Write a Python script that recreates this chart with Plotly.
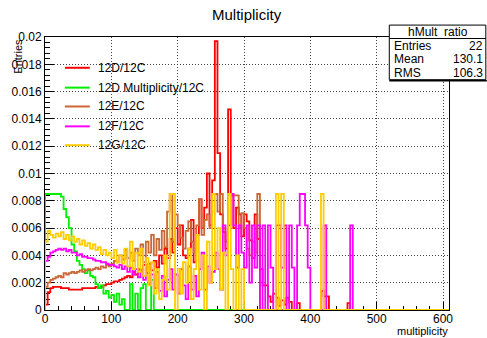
import plotly.graph_objects as go

# ---------------- data (bin width 4, starting at 0) ----------------
BIN_WIDTH = 4
X_MAX = 609

names = ["12D/12C", "12D Multiplicity/12C", "12E/12C", "12F/12C", "12G/12C"]
colors = ["#ff0000", "#00ee00", "#cc6633", "#ff00ff", "#ffcc00"]

red_12D = [
    0.0004, 0.0013, 0.0016, 0.0017, 0.0017, 0.0017, 0.0016, 0.0016, 0.0016, 0.0015,
    0.0015, 0.0015, 0.0015, 0.0015, 0.0016, 0.0016, 0.0016, 0.0016, 0.0016, 0.0017,
    0.0016, 0.0017, 0.0018, 0.0019, 0.0019, 0.0020, 0.0021, 0.0021, 0.0022, 0.0023,
    0.0024, 0.0025, 0.0024, 0.0028, 0.0026, 0.0030, 0.0029, 0.0033, 0.0027, 0.0034,
    0.0029, 0.0036, 0.0031, 0.0040, 0.0034, 0.0045, 0.0038, 0.0052, 0.0042, 0.0060,
    0.0048, 0.0062, 0.0040, 0.0038, 0.0045, 0.0066, 0.0035, 0.0055, 0.0081, 0.0060,
    0.0075, 0.0100, 0.0062, 0.0095, 0.0197, 0.0115, 0.0070, 0.0057, 0.0045, 0.0147,
    0.0084, 0.0060, 0.0075, 0.0070, 0.0054, 0.0070, 0.0065, 0.0051, 0.0038, 0.0070,
    0.0052, 0.0030, 0.0018, 0.0018, 0.0010, 0.0006, 0.0012, 0.0009, 0.0003, 0.0007,
    0.0004, 0.0009, 0.0006, 0.0000, 0.0000, 0.0005, 0.0000, 0.0000, 0.0000, 0.0000,
    0.0000, 0.0000, 0.0000, 0.0000, 0.0014, 0.0010, 0.0010, 0.0000, 0.0000, 0.0000,
    0.0000, 0.0000, 0.0000, 0.0000, 0.0005,
]

green_12D_mult = [
    0.0085, 0.0085, 0.0085, 0.0085, 0.0085, 0.0085, 0.0083, 0.0074, 0.0068, 0.0060,
    0.0048, 0.0043, 0.0036, 0.0033, 0.0030, 0.0027, 0.0029, 0.0025, 0.0024, 0.0019,
    0.0016, 0.0018, 0.0012, 0.0014, 0.0009, 0.0011, 0.0006, 0.0012, 0.0004, 0.0008,
    0.0000, 0.0000, 0.0019, 0.0000, 0.0012, 0.0000, 0.0016, 0.0019, 0.0000, 0.0000,
    0.0022,
]

brown_12E = [
    0.0017, 0.0020, 0.0022, 0.0023, 0.0024, 0.0025, 0.0024, 0.0027, 0.0026, 0.0027,
    0.0028, 0.0027, 0.0028, 0.0029, 0.0028, 0.0029, 0.0030, 0.0029, 0.0030, 0.0031,
    0.0030, 0.0032, 0.0031, 0.0033, 0.0032, 0.0034, 0.0036, 0.0035, 0.0040, 0.0037,
    0.0044, 0.0038, 0.0042, 0.0036, 0.0045, 0.0040, 0.0048, 0.0035, 0.0050, 0.0042,
    0.0055, 0.0040, 0.0052, 0.0044, 0.0058, 0.0046, 0.0072, 0.0085, 0.0050, 0.0070,
    0.0062, 0.0053, 0.0045, 0.0058, 0.0065, 0.0050, 0.0042, 0.0062, 0.0081, 0.0055,
    0.0066, 0.0070, 0.0060, 0.0085, 0.0085, 0.0072, 0.0085, 0.0060, 0.0050, 0.0085,
    0.0085, 0.0084, 0.0084, 0.0060, 0.0071, 0.0060, 0.0045, 0.0040, 0.0050, 0.0042,
    0.0085,
]

magenta_12F = [
    0.0036, 0.0039, 0.0042, 0.0043, 0.0044, 0.0045, 0.0044, 0.0045, 0.0043, 0.0044,
    0.0042, 0.0042, 0.0040, 0.0041, 0.0039, 0.0039, 0.0038, 0.0038, 0.0037, 0.0036,
    0.0036, 0.0035, 0.0035, 0.0034, 0.0033, 0.0033, 0.0032, 0.0031, 0.0033, 0.0030,
    0.0032, 0.0028, 0.0031, 0.0026, 0.0030, 0.0024, 0.0029, 0.0022, 0.0027, 0.0019,
    0.0026, 0.0016, 0.0028, 0.0014, 0.0025, 0.0010, 0.0022, 0.0030, 0.0015, 0.0026,
    0.0012, 0.0030, 0.0018, 0.0008, 0.0032, 0.0015, 0.0025, 0.0010, 0.0030, 0.0042,
    0.0015, 0.0032, 0.0020, 0.0028, 0.0042, 0.0030, 0.0015, 0.0062, 0.0040, 0.0062,
    0.0085, 0.0062, 0.0031, 0.0062, 0.0042, 0.0031, 0.0062, 0.0020, 0.0062, 0.0031,
    0.0062, 0.0000, 0.0062, 0.0000, 0.0062, 0.0031, 0.0000, 0.0062, 0.0062, 0.0031,
    0.0062, 0.0000, 0.0062, 0.0031, 0.0000, 0.0062, 0.0085, 0.0085, 0.0062, 0.0031,
    0.0000, 0.0000, 0.0000, 0.0000, 0.0000, 0.0062, 0.0000, 0.0000, 0.0000, 0.0000,
    0.0000, 0.0000, 0.0000, 0.0000, 0.0000, 0.0062,
]

yellow_12G = [
    0.0050, 0.0058, 0.0055, 0.0053, 0.0056, 0.0054, 0.0057, 0.0052, 0.0055, 0.0051,
    0.0054, 0.0050, 0.0052, 0.0048, 0.0051, 0.0047, 0.0049, 0.0045, 0.0048, 0.0044,
    0.0046, 0.0041, 0.0044, 0.0040, 0.0042, 0.0038, 0.0044, 0.0035, 0.0040, 0.0034,
    0.0045, 0.0032, 0.0050, 0.0030, 0.0042, 0.0028, 0.0045, 0.0025, 0.0038, 0.0018,
    0.0035, 0.0012, 0.0030, 0.0008, 0.0022, 0.0040, 0.0015, 0.0085, 0.0085, 0.0000,
    0.0030, 0.0012, 0.0035, 0.0020, 0.0045, 0.0008, 0.0030, 0.0055, 0.0015, 0.0040,
    0.0000, 0.0050, 0.0020, 0.0085, 0.0030, 0.0060, 0.0015, 0.0042, 0.0000, 0.0085,
    0.0030, 0.0000, 0.0040, 0.0000, 0.0030, 0.0000, 0.0000, 0.0000, 0.0000, 0.0000,
    0.0000, 0.0000, 0.0000, 0.0000, 0.0000, 0.0000, 0.0000, 0.0085, 0.0000, 0.0085,
    0.0000, 0.0000, 0.0000, 0.0000, 0.0000, 0.0000, 0.0000, 0.0000, 0.0000, 0.0000,
    0.0000, 0.0000, 0.0000, 0.0000, 0.0085,
]

series = [red_12D, green_12D_mult, brown_12E, magenta_12F, yellow_12G]
draw_order = [0, 1, 2, 3, 4]

x_tickvals = [0, 100, 200, 300, 400, 500, 600]
x_ticktext = ["0", "100", "200", "300", "400", "500", "600"]
y_tickvals = [0, 0.002, 0.004, 0.006, 0.008, 0.01, 0.012, 0.014, 0.016, 0.018, 0.02]
y_ticktext = ["0", "0.002", "0.004", "0.006", "0.008", "0.01", "0.012", "0.014",
              "0.016", "0.018", "0.02"]

stats_title = "hMult_ratio"
stats_labels = ["Entries", "Mean", "RMS"]
stats_values = ["22", "130.1", "106.3"]

# ---------------- figure ----------------
W, H = 487, 338
L, T = 43, 37
R = W - 449
B = H - 312
PW, PH = W - L - R, H - T - B


def px_x(p):
    return (p - L) / PW


def px_y(p):
    return (H - B - p) / PH


def step_xy(vals):
    xs, ys = [0], [0]
    for i, v in enumerate(vals):
        xs.append(i * BIN_WIDTH)
        ys.append(v)
    xs.append(len(vals) * BIN_WIDTH)
    ys.append(0)
    xs.append(X_MAX)
    ys.append(0)
    return xs, ys


fig = go.Figure()
for k in draw_order:
    xs, ys = step_xy(series[k])
    fig.add_trace(go.Scatter(x=xs, y=ys, mode="lines", line_shape="hv",
                             line=dict(color=colors[k], width=1.8),
                             name=names[k], showlegend=False, hoverinfo="skip"))

font = "Liberation Sans, Arial, Helvetica, sans-serif"
axis_common = dict(showline=True, linecolor="black", linewidth=1, mirror=True,
                   ticks="inside", tickcolor="black", tickwidth=1,
                   showgrid=True, gridcolor="#444444", gridwidth=1, griddash="1px,2px",
                   zeroline=False, layer="below traces",
                   tickfont=dict(family=font, size=12, color="black"))

fig.update_xaxes(range=[0, X_MAX], tickvals=x_tickvals, ticktext=x_ticktext,
                 ticklen=8, ticklabelstandoff=-2,
                 minor=dict(dtick=20, ticklen=4, ticks="inside",
                            tickcolor="black", showgrid=False),
                 **axis_common)
fig.update_yaxes(range=[0, 0.02], tickvals=y_tickvals, ticktext=y_ticktext,
                 ticklen=9, minor=dict(dtick=0.0004, ticklen=5, ticks="inside",
                                        tickcolor="black", showgrid=False),
                 **axis_common)

shapes = []
annotations = []

# legend
leg_y = [68, 88, 107, 127, 146]
for k in range(len(names)):
    shapes.append(dict(type="line", xref="paper", yref="paper",
                       x0=px_x(63), x1=px_x(88), y0=px_y(leg_y[k]), y1=px_y(leg_y[k]),
                       line=dict(color=colors[k], width=2)))
    annotations.append(dict(xref="paper", yref="paper", x=px_x(94), y=px_y(leg_y[k]),
                            text=names[k], showarrow=False, xanchor="left",
                            yanchor="middle", font=dict(family=font, size=12, color="black")))

# stats box
bx0, bx1, by0, by1 = 389, 486, 25, 80
shapes.append(dict(type="rect", xref="paper", yref="paper",
                   x0=px_x(bx0), x1=px_x(bx1), y0=px_y(by1), y1=px_y(by0),
                   line=dict(color="black", width=1), fillcolor="white", layer="above"))
shapes.append(dict(type="line", xref="paper", yref="paper",
                   x0=px_x(bx0), x1=px_x(bx1 + 1), y0=px_y(by1 + 1), y1=px_y(by1 + 1),
                   line=dict(color="black", width=1.5)))
shapes.append(dict(type="line", xref="paper", yref="paper",
                   x0=px_x(bx0), x1=px_x(bx1), y0=px_y(38.5), y1=px_y(38.5),
                   line=dict(color="black", width=1)))
annotations.append(dict(xref="paper", yref="paper", x=px_x(438), y=px_y(31.5),
                        text=stats_title, showarrow=False, xanchor="center",
                        yanchor="middle", font=dict(family=font, size=12, color="black")))
row_y = [46, 59.5, 73]
for lab, val, yy in zip(stats_labels, stats_values, row_y):
    annotations.append(dict(xref="paper", yref="paper", x=px_x(392), y=px_y(yy),
                            text=lab, showarrow=False, xanchor="left", yanchor="middle",
                            font=dict(family=font, size=12, color="black")))
    annotations.append(dict(xref="paper", yref="paper", x=px_x(485), y=px_y(yy),
                            text=val, showarrow=False, xanchor="right", yanchor="middle",
                            font=dict(family=font, size=12, color="black")))

# axis titles
annotations.append(dict(xref="paper", yref="paper", x=px_x(15), y=1.0,
                        text="Entries", textangle=-90, showarrow=False,
                        xanchor="center", yanchor="top",
                        font=dict(family=font, size=11, color="black")))
annotations.append(dict(xref="paper", yref="paper", x=1.0, y=px_y(333),
                        text="multiplicity", showarrow=False, borderpad=0,
                        xanchor="right", yanchor="middle",
                        font=dict(family=font, size=11, color="black")))
# title
annotations.append(dict(xref="paper", yref="paper", x=px_x(246), y=px_y(14.5),
                        text="Multiplicity", showarrow=False,
                        xanchor="center", yanchor="middle",
                        font=dict(family=font, size=15, color="black")))

fig.update_layout(width=W, height=H, margin=dict(l=L, r=R, t=T, b=B),
                  paper_bgcolor="white", plot_bgcolor="white",
                  showlegend=False, shapes=shapes, annotations=annotations)

fig.write_html("out.html", config={"displayModeBar": False},
               post_script="document.body.style.margin='0px';"
                           "document.body.style.overflow='hidden';")
